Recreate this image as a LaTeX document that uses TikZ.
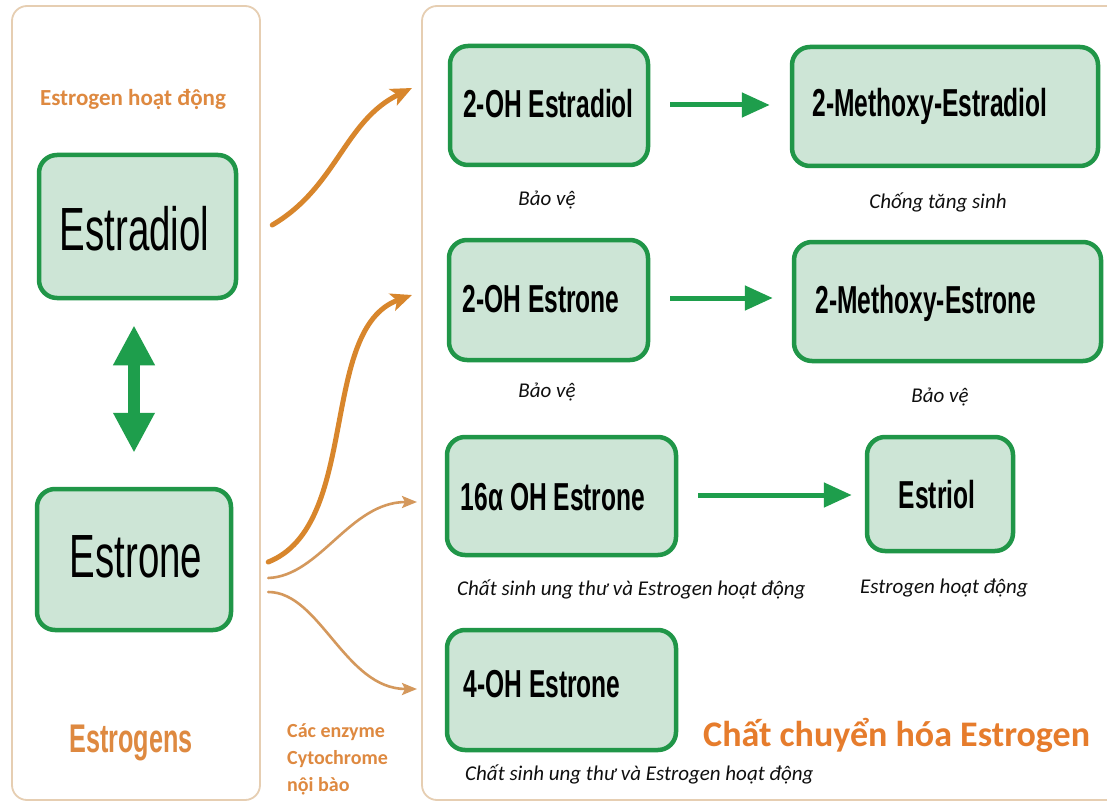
\documentclass[tikz,border=0pt]{standalone}
\usepackage{fontspec}
\setmainfont{Carlito}
\newfontfamily\narrowsans[FakeStretch=0.63]{Liberation Sans}
\usetikzlibrary{arrows.meta}
\definecolor{gborder}{RGB}{32,150,72}
\definecolor{gfill}{RGB}{205,229,214}
\definecolor{garrow}{RGB}{30,158,76}
\definecolor{othick}{RGB}{216,134,44}
\definecolor{othin}{RGB}{212,152,92}
\definecolor{otext}{RGB}{222,137,64}
\definecolor{otitle}{RGB}{230,124,44}
\definecolor{panelc}{RGB}{230,206,178}
\definecolor{captc}{RGB}{15,15,15}
\begin{document}
\begin{tikzpicture}[x=1pt,y=-1pt,
  panel/.style={draw=panelc, line width=1.8pt, rounded corners=15pt},
  gbox/.style={draw=gborder, fill=gfill, line width=4.5pt, rounded corners=18pt, inner sep=0pt},
  blabel/.style={font=\narrowsans\bfseries\fontsize{39}{39}\selectfont, anchor=base, inner sep=0pt},
  big/.style={font=\narrowsans\fontsize{61}{61}\selectfont, anchor=base, inner sep=0pt},
  capt/.style={font=\itshape\fontsize{21}{21}\selectfont, text=captc, inner sep=0pt, anchor=base},
  olabel/.style={font=\bfseries\fontsize{20}{20}\selectfont, text=otext, inner sep=0pt, anchor=base west},
  garr/.style={draw=garrow, line width=5pt, -{Triangle[length=28pt,width=24pt]}},
  othk/.style={draw=othick, line width=5pt, line cap=round, -{Stealth[length=21pt,width=18pt,inset=5pt]}},
  othn/.style={draw=othin, line width=2.6pt, line cap=round, -{Stealth[length=15pt,width=12pt,inset=3pt]}}
]
\useasboundingbox (0,0) rectangle (1107,805);
\fill[white] (0,0) rectangle (1107,805);

% panels
\draw[panel] (12,6) rectangle (260,800);
\draw[panel] (422,6) rectangle (1130,800);

% left side
\node[font=\bfseries\fontsize{23}{23}\selectfont, text=otext, inner sep=0pt, anchor=base] (hoat) at (133,106) {Estrogen hoạt động};
\node[gbox, minimum width=197pt, minimum height=143pt] (est1) at (137.5,226.5) {};
\node[big] (est1t) at (134.5,250) {Estradiol};
\node[gbox, minimum width=194pt, minimum height=141pt] (est2) at (134,559.5) {};
\node[big] (est2t) at (136,577) {Estrone};
\node[font=\narrowsans\bfseries\fontsize{40}{40}\selectfont, text=otext, inner sep=0pt, anchor=base] (estrogens) at (131,752) {Estrogens};
\draw[draw=garrow, line width=12pt, shorten <=25pt, shorten >=34pt,
  {Triangle[length=40pt,width=39pt]}-{Triangle[length=40pt,width=39pt]}]
  (est1.south -| est2.north) -- (est2.north);

\node[olabel] (enz1) at (287,737) {Các enzyme};
\node[olabel] (enz2) at (287,764) {Cytochrome};
\node[olabel] (enz3) at (287,791) {nội bào};

% right side boxes
\node[gbox, minimum width=198pt, minimum height=119pt] (b1) at (549,105.5) {};
\node[blabel] (b1t) at (548.5,118) {2-OH Estradiol};
\node[gbox, minimum width=306pt, minimum height=119pt] (b2) at (945,106.5) {};
\node[blabel] (b2t) at (930,117) {2-Methoxy-Estradiol};
\node[gbox, minimum width=199pt, minimum height=120pt] (b3) at (548.5,300) {};
\node[blabel] (b3t) at (541,312) {2-OH Estrone};
\node[gbox, minimum width=307pt, minimum height=119pt] (b4) at (947.5,301.5) {};
\node[blabel] (b4t) at (926,313) {2-Methoxy-Estrone};
\node[gbox, minimum width=229pt, minimum height=118pt] (b5) at (561.5,496) {};
\node[blabel] (b5t) at (553,510) {16α OH Estrone};
\node[gbox, minimum width=146pt, minimum height=114pt] (b6) at (940,494) {};
\node[blabel] (b6t) at (937,508) {Estriol};
\node[gbox, minimum width=229pt, minimum height=120pt] (b7) at (561.5,690) {};
\node[blabel] (b7t) at (542,697) {4-OH Estrone};

% green arrows
\draw[garr, shorten <=20pt, shorten >=20pt] (b1.east |- 0,105) -- (b2.west |- 0,105);
\draw[garr, shorten <=20pt, shorten >=19pt] (b3.east |- 0,298) -- (b4.west |- 0,298);
\draw[garr, shorten <=20pt, shorten >=13pt] (b5.east |- 0,495) -- (b6.west |- 0,495);

% captions
\node[capt] (c1) at (547,205) {Bảo vệ};
\node[capt] (c2) at (938,208) {Chống tăng sinh};
\node[capt] (c3) at (547,397) {Bảo vệ};
\node[capt] (c4) at (940,402) {Bảo vệ};
\node[capt, anchor=base west] (c5) at (457,595) {Chất sinh ung thư và Estrogen hoạt động};
\node[capt] (c6) at (944,593) {Estrogen hoạt động};
\node[capt, anchor=base west] (c7) at (465,780) {Chất sinh ung thư và Estrogen hoạt động};
\node[font=\bfseries\fontsize{36}{36}\selectfont, text=otitle, inner sep=0pt, anchor=base west] (title) at (703,746) {Chất chuyển hóa Estrogen};

% orange connectors
\coordinate (s1) at ([xshift=34pt,yshift=1.5pt]est1.east);
\coordinate (s2) at ([xshift=35pt,yshift=-2.5pt]est2.east);
\coordinate (s3) at ([xshift=35pt,yshift=-18.5pt]est2.east);
\coordinate (s4) at ([xshift=35pt,yshift=-32.5pt]est2.east);
\coordinate (e1) at (412,88);
\coordinate (e2) at (412,295);
\coordinate (e3) at (417,502);
\coordinate (e4) at (417,689);
\draw[othk] (s1) .. controls (337,187) and (344,121) .. (e1);
\draw[othk] (s2) .. controls (361,525) and (318,329) .. (e2);
\draw[othn] (s3) .. controls (320,576) and (350,502) .. (e3);
\draw[othn] (s4) .. controls (320,592) and (345,689) .. (e4);
\end{tikzpicture}
\end{document}
